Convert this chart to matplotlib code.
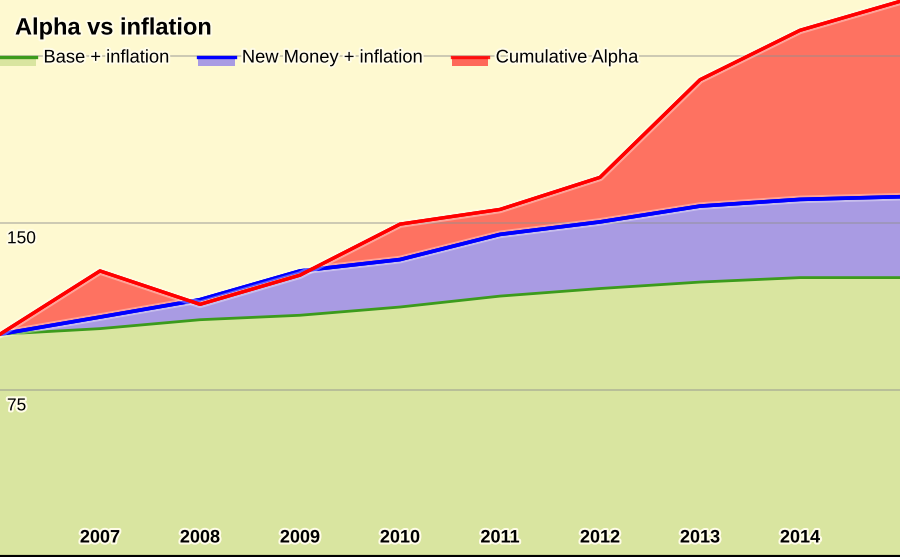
import matplotlib
matplotlib.use("Agg")
import matplotlib.pyplot as plt
import matplotlib.patheffects as pe
from matplotlib.patches import Patch, Rectangle
from matplotlib.lines import Line2D
from matplotlib.legend_handler import HandlerBase
from matplotlib import font_manager
import matplotlib.transforms as mtrans

# ---- data ----
years = [2006, 2007, 2008, 2009, 2010, 2011, 2012, 2013, 2014, 2015]
base_inflation = [100, 102.5, 106.5, 108.5, 112.2, 117.1, 120.5, 123.4, 125.4, 125.4]
new_money_inflation = [100, 107.7, 115.5, 128.4, 133.5, 144.8, 150.4, 157.5, 160.5, 161.7]
cumulative_alpha = [100, 128.4, 113.4, 126.5, 149.4, 156.0, 170.4, 214.2, 236.4, 249.4]
xtick_years = [2007, 2008, 2009, 2010, 2011, 2012, 2013, 2014]
ytick_values = [75, 150]
ygrid_values = [75, 150, 225]
series_names = ["Base + inflation", "New Money + inflation", "Cumulative Alpha"]
title = "Alpha vs inflation"

# ---- style ----
BG = "#fef9d0"
GREEN_FILL = "#d9e5a0"
GREEN_LINE = "#3c9b1c"
PURPLE_FILL = "#a99be3"
BLUE_LINE = "#0000ff"
RED_FILL = "#ff5045"
RED_LINE = "#ff0000"

names = {f.name for f in font_manager.fontManager.ttflist}
main_font = "Liberation Sans" if "Liberation Sans" in names else "DejaVu Sans"
plt.rcParams["font.family"] = [main_font, "DejaVu Sans"]

halo = [pe.withStroke(linewidth=3, foreground="#fffce8")]

fig = plt.figure(figsize=(9, 5.57), dpi=100)
fig.patch.set_facecolor(BG)
ax = fig.add_axes([0, 0, 1, 1])
ax.set_facecolor(BG)

ax.fill_between(years, 0, base_inflation, color=GREEN_FILL, lw=0, zorder=1)
ax.fill_between(years, base_inflation, new_money_inflation, color=PURPLE_FILL, lw=0, zorder=1)
ax.fill_between(years, new_money_inflation, cumulative_alpha, color=RED_FILL, alpha=0.8, lw=0, zorder=1.1)

line_halo = [pe.withStroke(linewidth=5.5, foreground="#ffffff", alpha=0.35), pe.Normal()]
ax.plot(years, base_inflation, color=GREEN_LINE, lw=2.0, zorder=3, solid_joinstyle="round")
ax.plot(years, new_money_inflation, color=BLUE_LINE, lw=2.6, zorder=3.1, solid_joinstyle="round",
        path_effects=line_halo)
ax.plot(years, cumulative_alpha, color=RED_LINE, lw=2.4, zorder=3.2, solid_joinstyle="round",
        path_effects=line_halo)

ax.set_xlim(years[0], years[-1])
ax.set_ylim(0, 250)

ax.set_yticks(ygrid_values)
ax.set_xticks([])
ax.tick_params(axis="y", length=0, labelleft=False)
ax.set_axisbelow(False)
ax.yaxis.grid(True, color="#909090", alpha=0.45, lw=1.4, zorder=2)

for s in ["top", "left", "right"]:
    ax.spines[s].set_visible(False)
ax.spines["bottom"].set_color("black")
ax.spines["bottom"].set_linewidth(3)
ax.spines["bottom"].set_zorder(5)

# y labels inside plot, under gridlines
ytrans = mtrans.blended_transform_factory(ax.transAxes, ax.transData)
for v in ytick_values:
    ax.annotate(str(v), xy=(0, v), xycoords=ytrans, xytext=(5, -11.5), textcoords="offset points",
                ha="left", va="center", fontsize=12.5, color="black", path_effects=halo, zorder=6)

# x labels inside plot
xtrans = mtrans.blended_transform_factory(ax.transData, ax.transAxes)
for yr in xtick_years:
    ax.annotate(str(yr), xy=(yr, 0), xycoords=xtrans, xytext=(0, 13.7), textcoords="offset points",
                ha="center", va="center", fontsize=13, fontweight="bold",
                color="black", path_effects=halo, zorder=6)

# title
ax.text(15 / 900, 1 - 28 / 557, title, transform=ax.transAxes, ha="left", va="center",
        fontsize=17, fontweight="bold", color="black", path_effects=halo, zorder=6)


# legend
class SwatchHandler(HandlerBase):
    def create_artists(self, legend, orig_handle, xdescent, ydescent, width, height, fontsize, trans):
        fc = orig_handle.get_facecolor()
        ec = orig_handle.get_edgecolor()
        top = -ydescent + height * 0.45
        rect = Rectangle((-xdescent, top - height * 0.75), width, height * 0.75,
                         facecolor=fc, edgecolor="none", transform=trans)
        line = Line2D([-xdescent, -xdescent + width], [top, top], color=ec, lw=2.4, transform=trans)
        return [rect, line]


handles = [
    Patch(facecolor=GREEN_FILL, edgecolor=GREEN_LINE),
    Patch(facecolor=PURPLE_FILL, edgecolor=BLUE_LINE),
    Patch(facecolor=RED_FILL, edgecolor=RED_LINE, alpha=0.85),
]
leg = ax.legend(handles, series_names, handler_map={Patch: SwatchHandler()}, ncol=3,
                loc="center left", bbox_to_anchor=(0, 1 - 58 / 557), frameon=False,
                borderaxespad=0, borderpad=0, fontsize=13.2, handlelength=1.97,
                handletextpad=0.4, columnspacing=1.58)
leg.set_zorder(6)
for t in leg.get_texts():
    t.set_path_effects(halo)

fig.savefig("out.png", dpi=100, facecolor=BG)
